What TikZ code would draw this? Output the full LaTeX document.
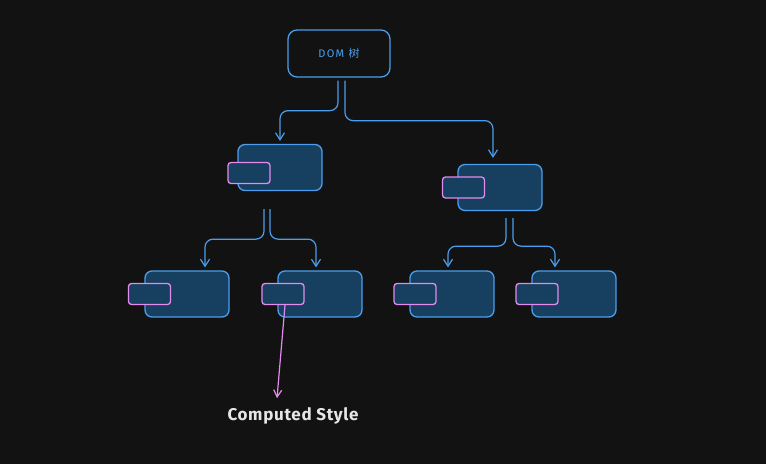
\documentclass[tikz,border=0pt]{standalone}
\usepackage{fontspec}
\setmainfont{Fira Sans}
\newfontfamily\cjkfont{Noto Sans CJK SC}
\usetikzlibrary{arrows.meta,calc}
\definecolor{bg}{HTML}{121212}
\definecolor{stroke}{HTML}{4A9EED}
\definecolor{nodefill}{HTML}{173F5F}
\definecolor{pinkc}{HTML}{E48AF0}
\definecolor{txt}{HTML}{E6E6E6}
\tikzset{
  treenode/.style={draw=stroke, fill=nodefill, line width=1.3pt, rounded corners=7pt, minimum width=84pt, minimum height=46pt, inner sep=0pt},
  tagbox/.style={draw=pinkc, fill=nodefill, line width=1.3pt, rounded corners=3pt, minimum width=42pt, minimum height=21pt, inner sep=0pt},
  conn/.style={draw=stroke, line width=1.2pt, rounded corners=8pt, -{Straight Barb[length=7pt,width=9pt]}},
  pinkconn/.style={draw=pinkc, line width=1.2pt, -{Straight Barb[length=7pt,width=8pt]}}
}
\begin{document}
\begin{tikzpicture}[x=1pt,y=-1pt]
\fill[bg] (0,0) rectangle (766,464);
\useasboundingbox (0,0) rectangle (766,464);

\node[draw=stroke, line width=1.3pt, rounded corners=9pt, minimum width=102pt, minimum height=47pt, inner sep=0pt, text=stroke, font=\fontsize{11}{12}\selectfont\addfontfeatures{LetterSpace=12}] (dom) at (339,53.5) {DOM {\cjkfont 树}};

\node[treenode] (a) at (280,167.5) {};
\node[tagbox] (ta) at (249,173) {};
\node[treenode] (b) at (500,187.5) {};
\node[tagbox] (tb) at (463.5,187.5) {};
\node[treenode] (c) at (187,294) {};
\node[tagbox] (tc) at (149.5,294) {};
\node[treenode] (d) at (320,294) {};
\node[tagbox] (td) at (283,294) {};
\node[treenode] (e) at (452,294) {};
\node[tagbox] (te) at (415,294) {};
\node[treenode] (f) at (574,294) {};
\node[tagbox] (tf) at (537,294) {};

\node[text=txt, font=\bfseries\fontsize{17}{19}\selectfont\addfontfeatures{LetterSpace=4}] (cs) at (293,416) {Computed Style};

\draw[conn] ([xshift=-1pt,yshift=-3pt]dom.south) -- ++(0,30) -| ([yshift=3pt]a.north);
\draw[conn] ([xshift=6pt,yshift=-3pt]dom.south) -- ++(0,40) -| ([xshift=-7pt,yshift=6pt]b.north);

\draw[conn] ([xshift=-16pt,yshift=-18pt]a.south) -- ++(0,30) -| ([xshift=18pt,yshift=3pt]c.north);
\draw[conn] ([xshift=-10pt,yshift=-18pt]a.south) -- ++(0,30) -| ([xshift=-4pt,yshift=3pt]d.north);

\draw[conn] ([xshift=6pt,yshift=-7pt]b.south) -- ++(0,28) -| ([xshift=-4pt,yshift=3pt]e.north);
\draw[conn] ([xshift=13pt,yshift=-7pt]b.south) -- ++(0,28) -| ([xshift=-19pt,yshift=3pt]f.north);

\coordinate (csin) at ([xshift=-16pt,yshift=6pt]cs.north);
\draw[pinkconn] ([xshift=2pt]td.south) -- (csin);
\end{tikzpicture}
\end{document}
